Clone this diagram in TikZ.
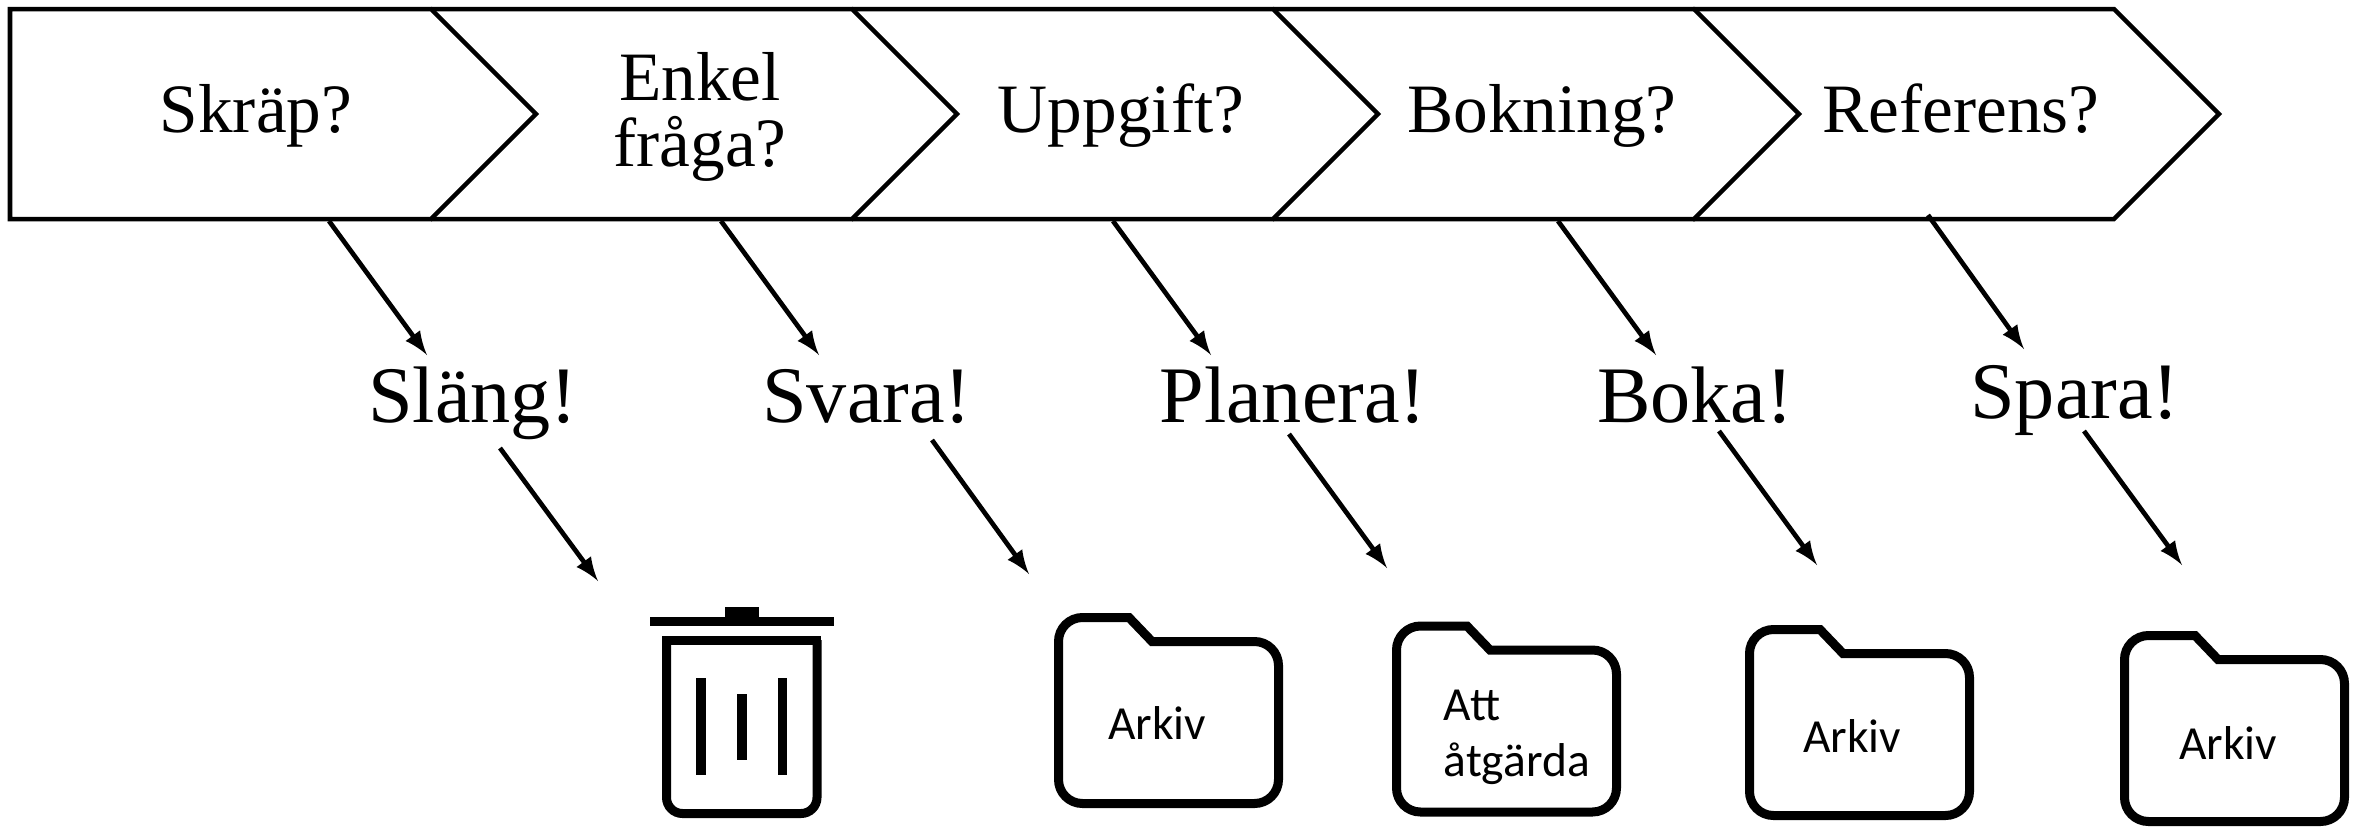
\documentclass[tikz,border=0pt]{standalone}
\usepackage{fontspec}
\setmainfont{Liberation Serif}
\newfontfamily\etikettfont{Carlito}
\usetikzlibrary{positioning}
\begin{document}
\begin{tikzpicture}[
    x=0.01cm, y=-0.01cm,
    >=latex,
    pil/.style={->, draw, line width=0.047cm},
    kant/.style={draw, line width=0.045cm, miter limit=10},
    fraga/.style={inner sep=0pt, anchor=base, align=center, font=\fontsize{19.7pt}{19pt}\selectfont},
    svar/.style={inner sep=0pt, anchor=base, font=\fontsize{22.8pt}{24pt}\selectfont},
    etikett/.style={inner sep=0pt, anchor=base, align=left, font=\etikettfont\fontsize{13.5pt}{15.9pt}\selectfont},
    tjock/.style={draw, line width=0.09cm, line join=miter},
    folder/.pic={
        \draw[tjock] (1058.5,641.5) .. controls (1058.5,628.3) and (1069.2,617.5) .. (1082.5,617.5) -- (1129,617.5) -- (1152,641.5)
            -- (1254.5,641.5) .. controls (1267.8,641.5) and (1278.5,652.2) .. (1278.5,665.5) -- (1278.5,779.5)
            .. controls (1278.5,792.8) and (1267.8,803.5) .. (1254.5,803.5) -- (1082.5,803.5)
            .. controls (1069.2,803.5) and (1058.5,792.8) .. (1058.5,779.5) -- cycle;
    }
    ]
\useasboundingbox (0,0) rectangle (2356,829);

% pilarna i kedjan
\draw[kant] (10,9) -- (431,9) -- (536,114) -- (431,219) -- (10,219) -- cycle;
\foreach \xa in {431,852,1273,1693}{
    \draw[kant] (\xa,9) -- ({\xa+421},9) -- ({\xa+526},114) -- ({\xa+421},219) -- (\xa,219);
}

% fragor
\node[fraga] (skrap) at (256,132) {Skräp?};
\node[fraga, anchor=center] (enkel) at (700,117) {Enkel\\fråga?};
\node[fraga] (uppgift) at (1121,132) {Uppgift?};
\node[fraga] (bokning) at (1542,132) {Bokning?};
\node[fraga] (referens) at (1961,132) {Referens?};

% svar
\node[svar] (slang) at (473,422) {Släng!};
\node[svar] (svara) at (867,422) {Svara!};
\node[svar] (planera) at (1293,422) {Planera!};
\node[svar] (boka) at (1695,422) {Boka!};
\node[svar] (spara) at (2075,418) {Spara!};

% alla pilar
\foreach \n/\ax/\ay/\bx/\by in {a/329/221/427/355, b/721/221/819/355, c/1113/221/1211/355,
    d/1558/221/1656/355, e/1928/215/2024/349, f/500/448/598/581, g/932/440/1029/574,
    h/1289/434/1387/568, i/1719/431/1817/565, j/2084/431/2182/565}{
    \coordinate (start\n) at (\ax,\ay);
    \coordinate (slut\n) at (\bx,\by);
    \draw[pil] (start\n) -- (slut\n);
}

% papperskorg
\fill (650,617) rectangle (834,626);
\fill (725,607) rectangle (759,617);
\draw[tjock, rounded corners=0.16cm] (666.5,640) -- (666.5,813.5) -- (817,813.5) -- (817,640);
\draw[tjock] (662,640) -- (821,640);
\fill (696,678) rectangle (706,775);
\fill (737,694) rectangle (747,760);
\fill (778,678) rectangle (787,775);

% mappar
\pic at (0,0) {folder};
\pic at (338,8.5) {folder};
\pic at (691,12) {folder};
\pic at (1066,18) {folder};
\node[etikett] (arkiva) at (1157,739) {Arkiv};
\node[etikett, anchor=west] (atgarda) at (1443,737) {Att\\åtgärda};
\node[etikett] (arkivb) at (1852,752) {Arkiv};
\node[etikett] (arkivc) at (2228,759) {Arkiv};
\end{tikzpicture}
\end{document}
